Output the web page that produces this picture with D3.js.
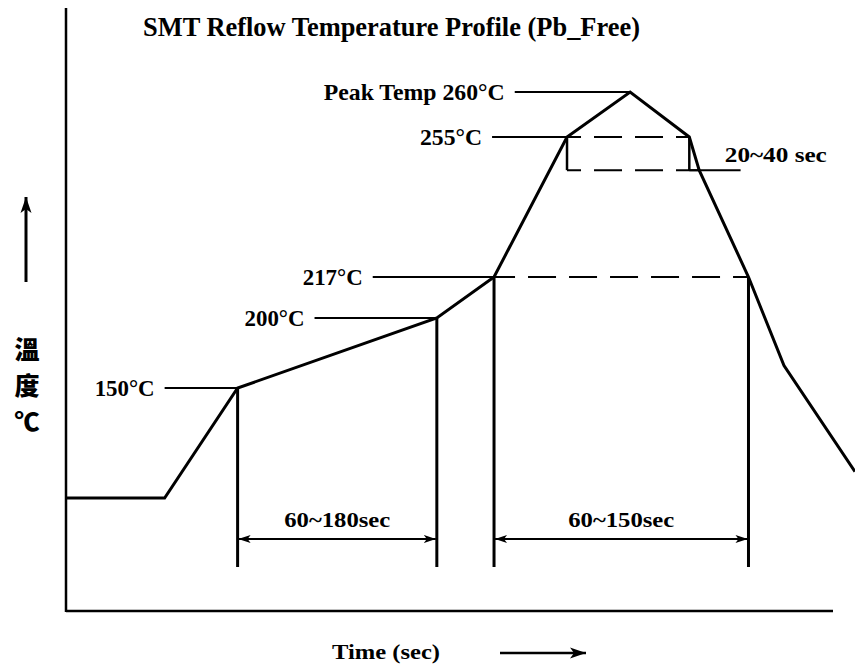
<!DOCTYPE html>
<html>
<head>
<meta charset="utf-8">
<script src="https://cdn.jsdelivr.net/npm/d3@7"></script>
<style>
  body { margin: 0; background: #fff; }
  text { font-family: "Liberation Serif", "Times New Roman", serif; font-weight: bold; fill: #000; }
</style>
</head>
<body>
<div id="chart"></div>
<script>
// 1. Data
const title = "SMT Reflow Temperature Profile (Pb_Free)";
const profileTime = [0, 50, 87, 188, 217, 254, 286, 316, 321, 346, 364, 400];
const profileTemp = [25, 25, 150, 200, 217, 255, 260, 255, 246, 217, 166, 55];

// labelled temperatures: text, temp, where the leader starts / ends (time)
const markTemp = [150, 200, 217, 255, 260];
const markText = ["150°C", "200°C", "217°C", "255°C", "Peak Temp 260°C"];
const markFrom = [50, 126, 155.5, 216, 227.5];
const markTo = [87, 188, 217, 254, 286];
const markWidth = [60, 60, 60, 62, 181];

// time windows
const spanFrom = [87, 217];
const spanTo = [188, 346];
const spanText = ["60~180sec", "60~150sec"];

// 255 window box
const boxFrom = 254;
const boxTo = 316;
const boxTop = 255;
const boxBottom = 246;
const boxText = "20~40 sec";

// 2. Dimensions
const dims = {
  width: 855,
  height: 672,
  left: 66,
  right: 855,
  top: 8,
  bottom: 611,
  axisEnd: 833,
  spanLineY: 539,
  spanBottom: 567,
};

// 3. Container
const svg = d3
  .select("#chart")
  .append("svg")
  .attr("width", dims.width)
  .attr("height", dims.height);

const defs = svg.append("defs");
function addMarker(id, w, h) {
  defs
    .append("marker")
    .attr("id", id)
    .attr("viewBox", `0 0 ${w} ${h}`)
    .attr("refX", w)
    .attr("refY", h / 2)
    .attr("markerWidth", w)
    .attr("markerHeight", h)
    .attr("markerUnits", "userSpaceOnUse")
    .attr("orient", "auto-start-reverse")
    .append("path")
    .attr("d", `M0,1 L${w},${h / 2} L0,${h - 1} L${w / 4},${h / 2} Z`)
    .attr("fill", "#000");
}
addMarker("arrow", 12, 10);
addMarker("bigArrow", 16, 13);

// 4. Scales (schematic: temperature axis is piecewise)
const xScale = d3.scaleLinear().domain([0, 400]).range([dims.left, dims.right]);
const yScale = d3
  .scaleLinear()
  .domain([25, 150, 200, 217, 255, 260])
  .range([498, 388, 318, 277, 137, 92]);

// 5. Axes
svg.append("line")
  .attr("x1", dims.left).attr("x2", dims.left)
  .attr("y1", dims.top).attr("y2", dims.bottom + 1)
  .attr("stroke", "#000").attr("stroke-width", 2.5);
svg.append("line")
  .attr("x1", dims.left).attr("x2", dims.axisEnd)
  .attr("y1", dims.bottom).attr("y2", dims.bottom)
  .attr("stroke", "#000").attr("stroke-width", 2.5);

svg.append("text")
  .attr("x", 143).attr("y", 36)
  .attr("textLength", 497).attr("lengthAdjust", "spacingAndGlyphs")
  .style("font-size", "27px")
  .text(title);

// y label
svg.append("line")
  .attr("x1", 26).attr("x2", 26)
  .attr("y1", 282).attr("y2", 197)
  .attr("stroke", "#000").attr("stroke-width", 3)
  .attr("marker-end", "url(#bigArrow)");
svg.selectAll(".ylab")
  .data(["溫", "度", "℃"])
  .join("text")
  .attr("class", "ylab")
  .attr("x", 27)
  .attr("y", (d, i) => 359 + i * 36)
  .attr("text-anchor", "middle")
  .style("font-family", "'Noto Sans CJK TC', sans-serif")
  .style("font-size", "25px")
  .style("font-weight", "900")
  .text((d) => d);

// x label
svg.append("text")
  .attr("x", 332).attr("y", 659)
  .attr("textLength", 108).attr("lengthAdjust", "spacingAndGlyphs")
  .style("font-size", "21px")
  .text("Time (sec)");
svg.append("line")
  .attr("x1", 500).attr("x2", 586)
  .attr("y1", 653).attr("y2", 653)
  .attr("stroke", "#000").attr("stroke-width", 2.5)
  .attr("marker-end", "url(#bigArrow)");

// 6. Guides
const marks = markTemp.map((t, i) => ({
  temp: t, text: markText[i], from: markFrom[i], to: markTo[i], w: markWidth[i],
}));

svg.selectAll(".lead")
  .data(marks)
  .join("line")
  .attr("x1", (d) => xScale(d.from))
  .attr("x2", (d) => xScale(d.to))
  .attr("y1", (d) => yScale(d.temp))
  .attr("y2", (d) => yScale(d.temp))
  .attr("stroke", "#000").attr("stroke-width", 2);

svg.selectAll(".mlabel")
  .data(marks)
  .join("text")
  .attr("x", (d) => xScale(d.from) - 10 - d.w)
  .attr("y", (d) => yScale(d.temp) + 8)
  .attr("textLength", (d) => d.w)
  .attr("lengthAdjust", "spacingAndGlyphs")
  .style("font-size", "23px")
  .text((d) => d.text);

// dashed levels
const dashed = [
  { temp: 217, from: 217, to: 346, offset: 7 },
  { temp: boxTop, from: boxFrom, to: boxTo, offset: 14 },
  { temp: boxBottom, from: boxFrom, to: 321, offset: 14 },
];
svg.selectAll(".dash")
  .data(dashed)
  .join("line")
  .attr("x1", (d) => xScale(d.from))
  .attr("x2", (d) => xScale(d.to))
  .attr("y1", (d) => yScale(d.temp))
  .attr("y2", (d) => yScale(d.temp))
  .attr("stroke", "#000").attr("stroke-width", 2)
  .attr("stroke-dasharray", "28,13")
  .attr("stroke-dashoffset", (d) => d.offset);

// box sides and 20~40 leader
svg.selectAll(".boxside")
  .data([boxFrom, boxTo])
  .join("line")
  .attr("x1", (d) => xScale(d)).attr("x2", (d) => xScale(d))
  .attr("y1", yScale(boxTop)).attr("y2", yScale(boxBottom))
  .attr("stroke", "#000").attr("stroke-width", 2.5);
svg.append("line")
  .attr("x1", xScale(316)).attr("x2", xScale(342))
  .attr("y1", yScale(boxBottom)).attr("y2", yScale(boxBottom))
  .attr("stroke", "#000").attr("stroke-width", 2);
svg.append("text")
  .attr("x", xScale(334)).attr("y", yScale(boxBottom) - 8)
  .attr("textLength", 102).attr("lengthAdjust", "spacingAndGlyphs")
  .style("font-size", "21px")
  .text(boxText);

// time windows
svg.selectAll(".vline")
  .data([...spanFrom, ...spanTo].map((t) => ({
    t, temp: profileTemp[profileTime.indexOf(t)],
  })))
  .join("line")
  .attr("x1", (d) => xScale(d.t)).attr("x2", (d) => xScale(d.t))
  .attr("y1", (d) => yScale(d.temp)).attr("y2", dims.spanBottom)
  .attr("stroke", "#000").attr("stroke-width", 3);

svg.selectAll(".span")
  .data(spanText.map((s, i) => ({ s, a: spanFrom[i], b: spanTo[i] })))
  .join("line")
  .attr("x1", (d) => xScale(d.a) + 1).attr("x2", (d) => xScale(d.b) - 1)
  .attr("y1", dims.spanLineY).attr("y2", dims.spanLineY)
  .attr("stroke", "#000").attr("stroke-width", 2)
  .attr("marker-start", "url(#arrow)")
  .attr("marker-end", "url(#arrow)");

svg.selectAll(".spantext")
  .data(spanText.map((s, i) => ({ s, a: spanFrom[i], b: spanTo[i] })))
  .join("text")
  .attr("x", (d) => (xScale(d.a) + xScale(d.b)) / 2 - 53)
  .attr("y", dims.spanLineY - 12)
  .attr("textLength", 106).attr("lengthAdjust", "spacingAndGlyphs")
  .style("font-size", "21px")
  .text((d) => d.s);

// 7. Profile
const profile = profileTime.map((t, i) => ({ t, temp: profileTemp[i] }));
const lineGenerator = d3
  .line()
  .x((d) => xScale(d.t))
  .y((d) => yScale(d.temp));

svg.append("path")
  .datum(profile)
  .attr("d", lineGenerator)
  .attr("fill", "none")
  .attr("stroke", "#000")
  .attr("stroke-width", 3)
  .attr("stroke-linejoin", "miter");
</script>
</body>
</html>
